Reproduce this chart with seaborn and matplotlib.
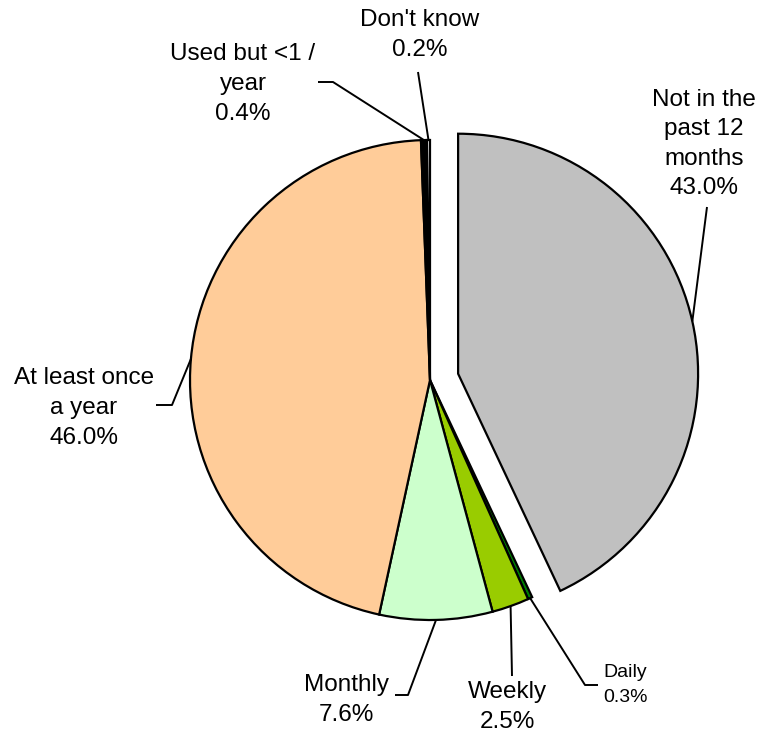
import numpy as np
import matplotlib
matplotlib.use("Agg")
import matplotlib.pyplot as plt
import seaborn as sns

categories = ["Not in the\npast 12\nmonths", "Daily", "Weekly", "Monthly",
              "At least once\na year", "Used but <1 /\nyear", "Don't know"]
values = [43.0, 0.3, 2.5, 7.6, 46.0, 0.4, 0.2]
colors = ["#C0C0C0", "#008000", "#99CC00", "#CCFFCC", "#FFCC99", "#000000", "#FFFFFF"]
explode = [0.12, 0, 0, 0, 0, 0, 0]

sns.set_style("white")
plt.rcParams['font.family'] = ['Liberation Sans', 'DejaVu Sans']

W, H = 772, 736
R = 240.0
cx, cy = 430, 380
fig = plt.figure(figsize=(W / 100, H / 100), dpi=100)
ax = fig.add_axes([0, 0, 1, 1])

def px(x, y):
    return ((x - cx) / R, (cy - y) / R)

wedges, _ = ax.pie(values, colors=colors, explode=explode, startangle=90,
                   counterclock=False, radius=1.0,
                   wedgeprops=dict(edgecolor="black", linewidth=1.6))

ax.set_xlim(-cx / R, (W - cx) / R)
ax.set_ylim(-(H - cy) / R, cy / R)
ax.set_aspect("equal")
ax.axis("off")

# label positions (pixel), leader bend points (pixel)
label_pos = [(704, 144), (625, 685), (507, 707), (346, 700), (84, 408), (243, 84), (420, 35)]
bends = [[(707, 207)], [(585, 685), (598, 685)], [(512, 676)], [(408, 695), (395, 695)],
         [(172, 405), (156, 405)], [(333, 82), (318, 82)], [(418, 72)]]
sizes = [17.5, 14, 17.5, 17.5, 17.5, 17.5, 17.5]
spacing = [1.45, 1.55, 1.45, 1.45, 1.45, 1.45, 1.45]

cum = np.cumsum([0] + values[:-1])
total = sum(values)
for i, (cat, v) in enumerate(zip(categories, values)):
    mid = 90 - 360 * (cum[i] + v / 2) / total
    r = 1.0 + explode[i]
    ax_, ay_ = r * np.cos(np.radians(mid)), r * np.sin(np.radians(mid))
    pts = [(ax_, ay_)] + [px(*b) for b in bends[i]]
    xs, ys = zip(*pts)
    ax.plot(xs, ys, color="black", lw=1.4, solid_capstyle="butt")
    lx, ly = px(*label_pos[i])
    ax.text(lx, ly, f"{cat}\n{v:.1f}%", ha="center", va="center",
            fontsize=sizes[i], linespacing=spacing[i], color="black")

fig.savefig("out.png", dpi=100)
